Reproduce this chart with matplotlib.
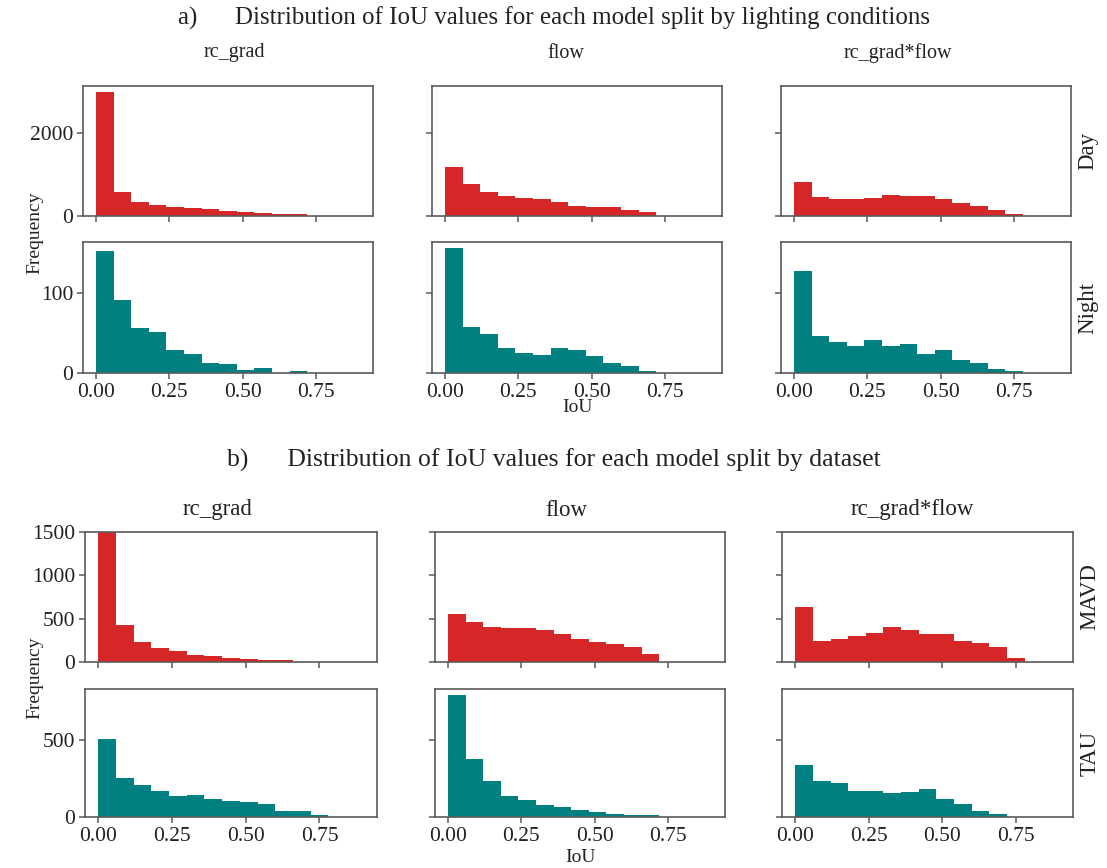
import numpy as np
import matplotlib
matplotlib.use("Agg")
import matplotlib.pyplot as plt

# IoU histogram bins (width 0.06 from 0 to 0.9)
bin_edges = np.round(np.arange(0, 0.90001, 0.06), 2)

models = ["rc_grad", "flow", "rc_grad*flow"]

# a) lighting conditions — counts per bin
day_rc_grad = [3000, 577, 350, 260, 228, 203, 163, 130, 98, 81, 49, 40, 0, 0, 0]
day_flow = [1179, 764, 577, 488, 447, 407, 341, 252, 228, 228, 154, 89, 0, 0, 0]
day_rc_grad_flow = [829, 455, 415, 415, 447, 512, 488, 488, 407, 317, 252, 154, 41, 0, 0]
night_rc_grad = [151, 91, 56, 51, 28, 24, 13, 11, 4, 6, 0, 3, 0, 0, 0]
night_flow = [155, 57, 48, 31, 25, 22, 31, 29, 21, 13, 9, 3, 0, 0, 0]
night_rc_grad_flow = [127, 46, 39, 33, 41, 33, 36, 23, 29, 16, 13, 5, 2, 0, 0]

# b) dataset — counts per bin
mavd_rc_grad = [1500, 430, 233, 163, 124, 85, 66, 50, 35, 23, 19, 0, 0, 0, 0]
mavd_flow = [554, 461, 407, 388, 388, 368, 322, 264, 229, 213, 174, 97, 0, 0, 0]
mavd_rc_grad_flow = [640, 244, 264, 295, 329, 407, 368, 322, 322, 244, 225, 174, 50, 0, 0]
tau_rc_grad = [504, 255, 204, 168, 136, 145, 117, 106, 96, 87, 36, 36, 15, 0, 0]
tau_flow = [787, 372, 234, 136, 111, 79, 62, 43, 30, 19, 11, 11, 0, 0, 0]
tau_rc_grad_flow = [334, 234, 219, 168, 168, 153, 162, 179, 115, 87, 40, 19, 0, 0, 0]

x_ticks = [0.0, 0.25, 0.5, 0.75]
x_tick_labels = ["0.00", "0.25", "0.50", "0.75"]

RED = "#d62728"
TEAL = "#008080"
SPINE = "#5a5a5a"
TEXT = "#222222"

plt.rcParams["font.family"] = ["Liberation Serif", "DejaVu Serif"]

W, H = 1107, 868
fig = plt.figure(figsize=(W / 100, H / 100), dpi=100)


def px_axes(left, top, right, bottom):
    return fig.add_axes([left / W, 1 - bottom / H, (right - left) / W, (bottom - top) / H])


def draw_hist(ax, counts, color):
    widths = np.diff(bin_edges)
    ax.bar(bin_edges[:-1], counts, width=widths, align="edge", color=color, linewidth=0)


def style_axes(ax, show_x, show_y):
    for s in ax.spines.values():
        s.set_color(SPINE)
        s.set_linewidth(1.2)
    ax.tick_params(direction="out", length=4, width=1.1, color=SPINE,
                   labelsize=15.5, labelcolor=TEXT, pad=3)
    ax.set_xlim(-0.045, 0.945)
    ax.set_xticks(x_ticks)
    if show_x:
        ax.set_xticklabels(x_tick_labels)
    else:
        ax.set_xticklabels([])
    if not show_y:
        ax.set_yticklabels([])


def section(title, title_size, rows, row_names, yticks, ylims, col_left, col_right, row_tb,
            title_y, coltitle_y, coltitle_x, coltitle_size, xlabel_y):
    fig.text(0.5, 1 - title_y / H, title, ha="center", va="center", fontsize=title_size, color=TEXT)
    for c, m in enumerate(models):
        fig.text(coltitle_x[c] / W, 1 - coltitle_y / H, m, ha="center", va="center",
                 fontsize=coltitle_size, color=TEXT)
    for r, (series, color) in enumerate(rows):
        top, bottom = row_tb[r]
        for c in range(3):
            ax = px_axes(col_left[c], top, col_right[c], bottom)
            draw_hist(ax, series[c], color)
            ax.set_ylim(0, ylims[r])
            ax.set_yticks(yticks[r])
            style_axes(ax, show_x=(r == 1), show_y=(c == 0))
        fig.text((col_right[2] + 17) / W, 1 - ((top + bottom) / 2) / H, row_names[r],
                 rotation=90, ha="center", va="center", fontsize=16.5, color=TEXT)
    mid_y = (row_tb[0][0] + row_tb[1][1]) / 2
    fig.text(35 / W, 1 - (mid_y + 3) / H, "Frequency", rotation=90, ha="center", va="center",
             fontsize=14, color=TEXT)
    fig.text(((col_left[1] + col_right[1]) / 2) / W, 1 - xlabel_y / H, "IoU", ha="center",
             va="center", fontsize=14, color=TEXT)


day_rows = [([day_rc_grad, day_flow, day_rc_grad_flow], RED),
            ([night_rc_grad, night_flow, night_rc_grad_flow], TEAL)]
day_max = [max(max(s) for s in day_rows[0][0]), max(max(s) for s in day_rows[1][0])]
section("a)      Distribution of IoU values for each model split by lighting conditions", 18,
        day_rows, ["Day", "Night"], [[0, 2000], [0, 100]],
        [1.05 * day_max[0], 1.05 * day_max[1]],
        [83, 432, 781], [373, 722, 1071], [(86, 216), (242, 373)],
        title_y=18, coltitle_y=53, coltitle_x=[234, 566, 898], coltitle_size=14.5, xlabel_y=408)

ds_rows = [([mavd_rc_grad, mavd_flow, mavd_rc_grad_flow], RED),
           ([tau_rc_grad, tau_flow, tau_rc_grad_flow], TEAL)]
tau_max = max(max(s) for s in ds_rows[1][0])
section("b)      Distribution of IoU values for each model split by dataset", 18.5,
        ds_rows, ["MAVD", "TAU"], [[0, 500, 1000, 1500], [0, 500]],
        [1500, 1.05 * tau_max],
        [85, 435, 782], [377, 725, 1073], [(532, 662), (689, 817)],
        title_y=460, coltitle_y=510, coltitle_x=[218, 566, 912], coltitle_size=16.5,
        xlabel_y=857)

fig.savefig("out.png", dpi=100)
